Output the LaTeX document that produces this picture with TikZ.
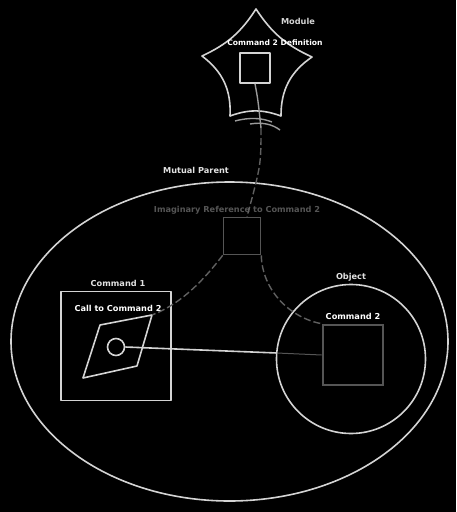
\documentclass[tikz,border=0pt]{standalone}
\usepackage{fontspec}
\setmainfont{DejaVu Sans}
\usetikzlibrary{backgrounds}

\definecolor{linegray}{HTML}{D4D4D4}
\definecolor{dimgray}{HTML}{555555}
\definecolor{dashgray}{HTML}{606060}
\definecolor{wiregray}{HTML}{9A9A9A}
\definecolor{labelgray}{HTML}{E2E2E2}

\begin{document}
\begin{tikzpicture} [x=1pt, y=-1pt,
	label/.style={font=\bfseries\fontsize{8.2}{9}\selectfont, text=labelgray, inner sep=0pt},
	outline/.style={draw=linegray, line width=1.6pt, line join=round},
	ghost/.style={draw=dimgray, line width=1.6pt},
	wire/.style={draw=wiregray, line width=1.4pt},
	link/.style={draw=dashgray, line width=1.4pt, dash pattern=on 7pt off 3pt}]
	
	\fill[black] (0,0) rectangle (456,512);
	\useasboundingbox (0,0) rectangle (456,512);
	
	% module
	\draw[outline] (256,9) to[bend right=16] (312,57) to[bend right=28] (281,116)
		to[bend right=20] (230,116) to[bend right=28] (202,56) to[bend right=16] (256,9) -- cycle;
	\node[outline, minimum size=30, inner sep=0] (defbox) at (255,68) {};
	\node[label, text=linegray] (modlbl) at (298,21) {Module};
	\node[label, font=\bfseries\fontsize{7.6}{9}\selectfont, text=white] (deflbl) at (275,43) {Command 2 Definition};
	\draw[wire] (235,121) .. controls (250,117) and (262,118) .. (272,122);
	\draw[wire] (250,124) .. controls (262,122) and (272,124) .. (280,130);
	
	% mutual parent
	\draw[outline] (229.5,341.5) ellipse [x radius=218.5, y radius=159.5];
	\node[label] (parentlbl) at (196,170) {Mutual Parent};
	\node[label, text=dimgray] (reflbl) at (237,210) {Imaginary Reference to Command 2};
	\node[ghost, minimum size=37, inner sep=0] (refbox) at (242,236) {};
	
	% command 1
	\node[outline, minimum width=110, minimum height=109, inner sep=0] (cmdone) at (116,346) {};
	\node[label] (onelbl) at (118,283) {Command 1};
	\node[label, text=white] (calllbl) at (118,308) {Call to Command 2};
	\coordinate (pa) at (152,315);
	\coordinate (pb) at (100,325);
	\coordinate (pc) at (83,378);
	\coordinate (pd) at (137,366);
	\draw[outline] (pa) -- (pb) -- (pc) -- (pd) -- cycle;
	\node[outline, circle, minimum size=17, inner sep=0] (callcirc) at (116,347) {};
	
	% object
	\node[outline, circle, minimum size=149, inner sep=0] (objcirc) at (351,359) {};
	\node[label] (objlbl) at (351,277) {Object};
	\node[draw=dimgray, line width=2.6pt, minimum size=60, inner sep=0] (cmdtwo) at (353,355) {};
	\node[label, text=white] (twolbl) at (353,316) {Command 2};
	
	% links
	\coordinate (brk) at (261,128);
	\coordinate (cut) at (277,353);
	\draw[wire] (defbox.south) .. controls (258,100) .. (brk);
	\draw[link] (brk) .. controls (261,165) .. ([xshift=5pt]refbox.north);
	\draw[link] (refbox.south west) .. controls (200,285) and (178,305) .. (pa);
	\draw[link] (refbox.south east) .. controls (262,290) and (290,318) .. (cmdtwo.north west);
	\draw[outline] (callcirc.east) -- (cut);
	\draw[draw=dimgray, line width=1pt] (cut) -- (cmdtwo.west);
	\end{tikzpicture}
\end{document}
